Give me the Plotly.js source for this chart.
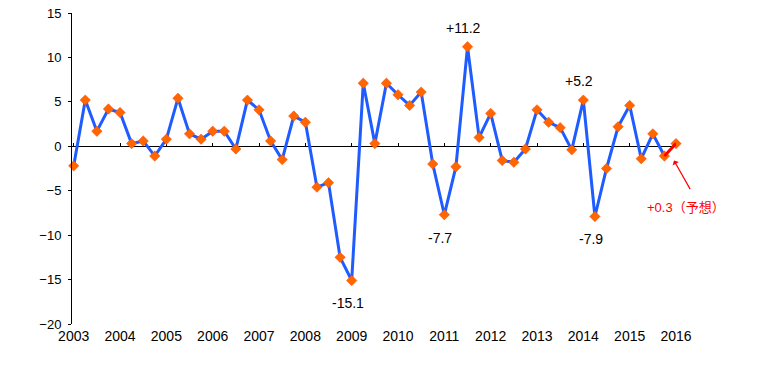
<!DOCTYPE html>
<html>
<head>
<meta charset="utf-8">
<script src="https://cdn.plot.ly/plotly-3.0.1.min.js"></script>
<style>html,body{margin:0;padding:0;background:#fff}#chart{width:760px;height:365px}</style>
</head>
<body>
<div id="chart"></div>
<script>
// Quarterly values, 2003 Q1 .. 2016 Q1 (last one is a forecast)
const years = ['2003','2004','2005','2006','2007','2008','2009','2010','2011','2012','2013','2014','2015','2016'];
const values = [
  -2.2, 5.2, 1.7, 4.2,
   3.8, 0.3, 0.6, -1.1,
   0.8, 5.4, 1.4, 0.8,
   1.7, 1.7, -0.3, 5.2,
   4.1, 0.6, -1.5, 3.4,
   2.7, -4.6, -4.1, -12.5,
  -15.1, 7.1, 0.3, 7.1,
   5.8, 4.6, 6.1, -2.0,
  -7.7, -2.3, 11.2, 1.0,
   3.7, -1.6, -1.8, -0.3,
   4.1, 2.7, 2.1, -0.4,
   5.2, -7.9, -2.5, 2.2,
   4.6, -1.4, 1.4, -1.1,
   0.3
];
const labelledPoints = [24, 32, 34, 44, 45];   // indices of annotated values
const forecastLabel = '（予想）';

const idx = values.map((v, i) => i);
const nActual = values.length - 1;
const yearTicks = years.map((y, i) => i * 4);

const font = 'Liberation Sans, Arial, Noto Sans CJK JP, sans-serif';
const fmt = v => (v > 0 ? '+' : '') + v.toFixed(1);

const traces = [
  { x: idx.slice(nActual - 1), y: values.slice(nActual - 1), xaxis: 'x2', yaxis: 'y',
    mode: 'lines', line: { color: '#ff0000', width: 3 }, cliponaxis: false, hoverinfo: 'skip' },
  { x: idx.slice(0, nActual), y: values.slice(0, nActual),
    mode: 'lines', line: { color: '#1f5cff', width: 3 }, cliponaxis: false, hoverinfo: 'skip' },
  { x: idx, y: values, mode: 'markers', cliponaxis: false,
    marker: { symbol: 'diamond', size: 8, color: '#ff6600', line: { color: '#ff4500', width: 0.5 } } }
];

const annotations = labelledPoints.map(i => ({
  x: i, y: values[i], xref: 'x', yref: 'y', text: fmt(values[i]), showarrow: false,
  yshift: values[i] > 0 ? 19 : -23, xshift: -4,
  font: { family: font, size: 14, color: '#000' }
}));
const last = values.length - 1;
annotations.push({
  x: last, y: values[last], xref: 'x', yref: 'y', text: '', showarrow: true,
  ax: 17, ay: 30, xshift: -2, yshift: -17, arrowhead: 1, arrowsize: 1, arrowwidth: 1.2, arrowcolor: '#ff0000'
});
annotations.push({
  x: last, y: values[last], xref: 'x', yref: 'y', text: fmt(values[last]) + forecastLabel, showarrow: false,
  xshift: 10, yshift: -64, font: { family: font, size: 13, color: '#ff0000' }
});

const xrange = [-0.147, 52];
const layout = {
  width: 760, height: 365,
  margin: { l: 72, r: 84, t: 13, b: 41 },
  paper_bgcolor: '#fff', plot_bgcolor: '#fff',
  showlegend: false,
  font: { family: font, color: '#000' },
  xaxis: {
    range: xrange, tickvals: yearTicks, ticktext: years, ticks: '', showline: false,
    showgrid: false, zeroline: false, tickfont: { size: 14 }, ticklabelstandoff: 2
  },
  xaxis2: {
    range: xrange, overlaying: 'x', matches: 'x', anchor: 'free', position: 20 / 35, side: 'top',
    tickvals: yearTicks, ticks: 'outside', ticklen: 3, tickcolor: '#000', tickwidth: 1,
    showticklabels: false, showline: true, linecolor: '#000', linewidth: 1,
    showgrid: false, zeroline: false, layer: 'below traces'
  },
  yaxis: {
    range: [-20, 15], dtick: 5, ticks: 'outside', ticklen: 3, tickcolor: '#000',
    showline: true, linecolor: '#000', linewidth: 1, showgrid: false, zeroline: false,
    tickfont: { size: 13 }, ticklabelstandoff: 4
  },
  annotations: annotations
};

Plotly.newPlot('chart', traces, layout, { staticPlot: true });
</script>
</body>
</html>
